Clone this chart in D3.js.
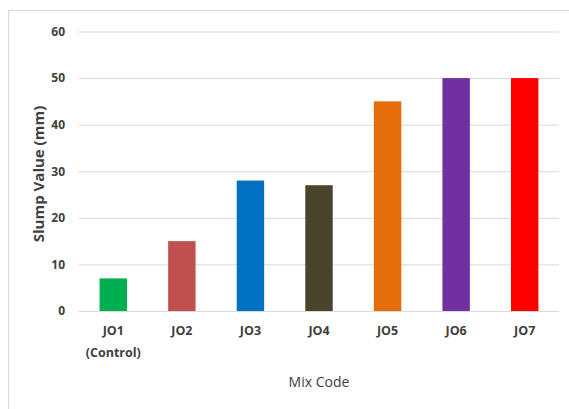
<!DOCTYPE html>
<html><head><meta charset="utf-8">
<script src="https://cdn.jsdelivr.net/npm/d3@7"></script>
<style>body{margin:0;background:#fff}svg{display:block}text{font-family:"Open Sans",sans-serif;fill:#404040}</style>
</head><body><svg id="c" width="569" height="409"></svg>
<script>
const categories = ["JO1", "JO2", "JO3", "JO4", "JO5", "JO6", "JO7"];
const subLabels = ["(Control)", "", "", "", "", "", ""];
const slumpValues = [7, 15, 28, 27, 45, 50, 50];
const barColors = ["#00b050", "#c0504d", "#0070c0", "#4a452a", "#e46c0a", "#7030a0", "#ff0000"];
const yTicks = [0, 10, 20, 30, 40, 50, 60];

const svg = d3.select("#c");
svg.append("rect").attr("x", 8.5).attr("y", 10.5).attr("width", 570).attr("height", 410)
  .attr("fill", "#fff").attr("stroke", "#d9d9d9");

const x = d3.scaleBand().domain(categories).range([79, 559]).paddingInner(0.6).paddingOuter(0.3);
const y = d3.scaleLinear().domain([0, 60]).range([311, 31.5]);

const ya = svg.append("g").attr("transform", "translate(79,0)")
  .call(d3.axisLeft(y).tickValues(yTicks).tickSize(-480).tickPadding(14));
ya.select(".domain").remove();
ya.selectAll(".tick line").attr("stroke", "#d9d9d9").attr("stroke-width", 1);
ya.selectAll(".tick text").attr("font-size", 12).attr("font-weight", "bold").attr("fill", "#404040")
  .style("font-family", '"Open Sans",sans-serif');

svg.append("g").selectAll("rect").data(categories).join("rect")
  .attr("x", d => x(d)).attr("width", x.bandwidth())
  .attr("y", (d, i) => y(slumpValues[i])).attr("height", (d, i) => y(0) - y(slumpValues[i]))
  .attr("fill", (d, i) => barColors[i]);

const xa = svg.append("g").attr("transform", "translate(0,311)")
  .call(d3.axisBottom(x).tickSize(0).tickPadding(15));
xa.select(".domain").remove();
xa.selectAll(".tick text").attr("font-size", 12.5).attr("font-weight", "bold").attr("fill", "#404040")
  .style("font-family", '"Open Sans",sans-serif');
xa.selectAll(".tick").append("text").attr("y", 46).attr("text-anchor", "middle")
  .attr("font-size", 12.5).attr("font-weight", "bold")
  .text((d, i) => subLabels[i]);

svg.append("text").attr("x", 319).attr("y", 387).attr("text-anchor", "middle")
  .attr("font-size", 14).text("Mix Code");
svg.append("text").attr("transform", "translate(44,174) rotate(-90)").attr("text-anchor", "middle")
  .attr("font-size", 15).attr("font-weight", "bold").text("Slump Value (mm)");
</script></body></html>
